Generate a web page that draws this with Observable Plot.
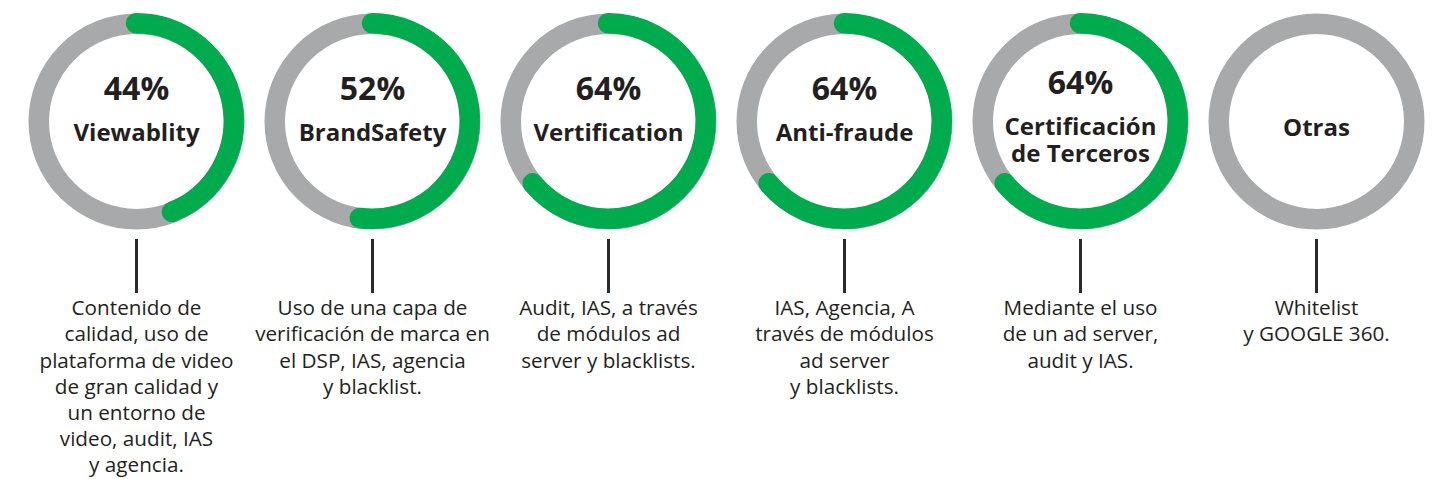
<!DOCTYPE html>
<html>
<head>
<meta charset="utf-8">
<script src="https://cdn.jsdelivr.net/npm/d3@7"></script>
<script src="https://cdn.jsdelivr.net/npm/@observablehq/plot@0.6"></script>
<style>
  html, body { margin: 0; padding: 0; background: #ffffff; }
  #chart svg { display: block; }
</style>
</head>
<body>
<div id="chart"></div>
<script>
// ---- data ----
const categories = ["Viewablity", "BrandSafety", "Vertification", "Anti-fraude", "Certificación\nde Terceros", "Otras"];
const shares = [44, 52, 64, 64, 64, null];
const pctLabels = ["44%", "52%", "64%", "64%", "64%", ""];
const descriptions = [
  "Contenido de\ncalidad, uso de\nplataforma de video\nde gran calidad y\nun entorno de\nvideo, audit, IAS\ny agencia.",
  "Uso de una capa de\nverificación de marca en\nel DSP, IAS, agencia\ny blacklist.",
  "Audit, IAS, a través\nde módulos ad\nserver y blacklists.",
  "IAS, Agencia, A\ntravés de módulos\nad server\ny blacklists.",
  "Mediante el uso\nde un ad server,\naudit y IAS.",
  "Whitelist\ny GOOGLE 360."
];

const items = categories.map((c, i) => ({cat: c, share: shares[i], pct: pctLabels[i], desc: descriptions[i]}));

// ---- layout / style ----
const W = 1432, H = 479;
const CY = 121, R = 97.75, RING = 20.5;
const GRAY = "#a7a9ab", GREEN = "#00ab4e", INK = "#231f20";
const FONT = "'Open Sans', 'Noto Sans', sans-serif";

// vertical nudge of the centre labels: taller blocks move up a little
const labelShift = d => d.pct ? -6 * (d.cat.split("\n").length - 1) : -5;
const shiftGroups = d3.groups(items, labelShift);

// custom arc mark using Plot's x scale
const arcMark = (index, scales, values, dimensions) => {
  const g = d3.create("svg:g");
  items.forEach(d => {
    if (!d.share) return;
    const cx = scales.x(d.cat);
    const cy = dimensions.marginTop + CY;
    const p = d3.path();
    const a0 = -Math.PI / 2;
    p.arc(cx, cy, R, a0, a0 + d.share / 100 * 2 * Math.PI);
    g.append("path")
      .attr("d", p.toString())
      .attr("fill", "none")
      .attr("stroke", GREEN)
      .attr("stroke-width", RING)
      .attr("stroke-linecap", "round");
  });
  return g.node();
};

const labelMarks = shiftGroups.flatMap(([shift, group]) => [
  Plot.text(group, {x: "cat", text: "pct", frameAnchor: "top", dy: 99 + shift, lineAnchor: "bottom",
    fontSize: 32, fontWeight: 700, fill: INK, fontFamily: FONT}),
  Plot.text(group, {x: "cat", text: d => d.cat, frameAnchor: "top", dy: 121 + shift, lineAnchor: "top",
    lineHeight: 1.125, fontSize: 24, fontWeight: 700, fill: INK, fontFamily: FONT})
]);

const chart = Plot.plot({
  width: W,
  height: H,
  margin: 0,
  style: {fontFamily: FONT, background: "#ffffff"},
  x: {type: "point", domain: categories, range: [135, 1316], padding: 0, axis: null},
  marks: [
    Plot.dot(items, {x: "cat", frameAnchor: "top", dy: CY, r: R, fill: "none", stroke: GRAY, strokeWidth: RING}),
    arcMark,
    ...labelMarks,
    Plot.ruleX(items, {x: "cat", insetTop: 239, insetBottom: H - 293, stroke: "#2a2a2a", strokeWidth: 3}),
    Plot.text(items, {x: "cat", text: "desc", frameAnchor: "top", dy: 296, lineAnchor: "top",
      lineHeight: 1.266, fontSize: 20.7, fontWeight: 400, fill: INK, fontFamily: FONT})
  ]
});

document.getElementById("chart").appendChild(chart);
</script>
</body>
</html>
